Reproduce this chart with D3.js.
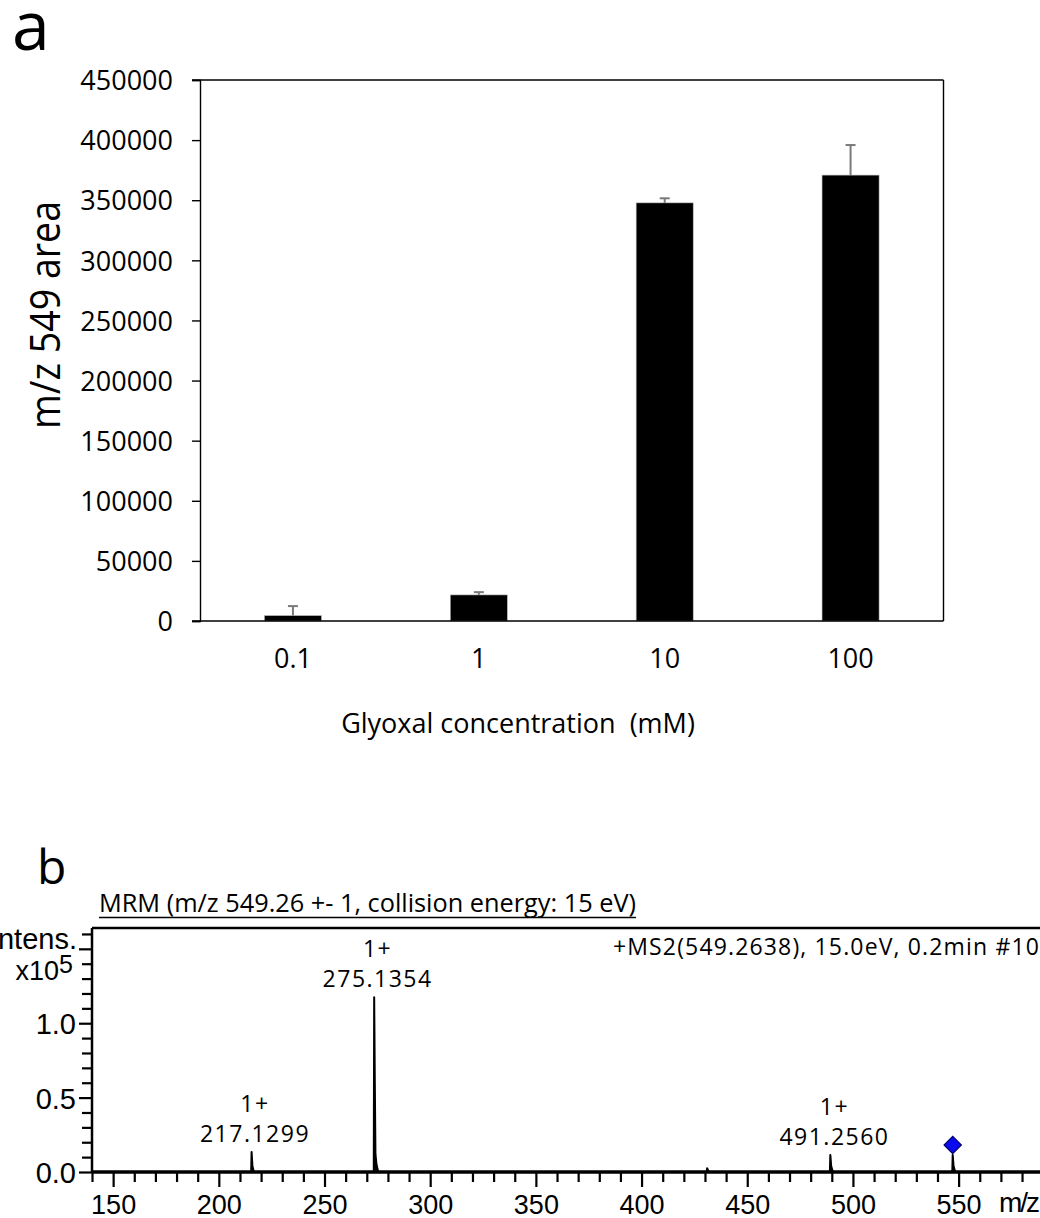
<!DOCTYPE html>
<html><head><meta charset="utf-8">
<script src="https://cdn.jsdelivr.net/npm/d3@7"></script>
<style>body{margin:0;background:#fff}svg{display:block}</style>
</head><body><svg id="c" width="1040" height="1218"></svg>
<script>
// ---------- Panel a data ----------
const categories = ["0.1", "1", "10", "100"];
const areaMeans = [4500, 21700, 347800, 370900];
const areaErrors = [7900, 2300, 3800, 25000];
const yTicksA = [0, 50000, 100000, 150000, 200000, 250000, 300000, 350000, 400000, 450000];

// ---------- Panel b data ----------
const specMz  = [140, 215.3, 215.5, 215.9, 216.4, 216.8, 273.3, 273.5, 273.8, 274.1, 274.6, 275.4, 430.8, 431.0, 431.8, 489.1, 489.3, 489.7, 490.3, 490.8, 547.0, 547.2, 547.6, 548.2, 548.6, 588.5];
const specInt = [0, 0, 0.135, 0.04, 0.01, 0, 0, 1.175, 0.6, 0.12, 0.05, 0, 0, 0.025, 0, 0, 0.115, 0.04, 0.01, 0, 0, 0.115, 0.04, 0.01, 0, 0];
const peakLabelMz = [217.1299, 275.1354, 491.2560];
const peakLabelApex = [0.135, 1.175, 0.115];
const peakLabelText = ["217.1299", "275.1354", "491.2560"];
const peakCharge = ["1+", "1+", "1+"];
const precursorMz = [547.2];
const precursorApex = [0.115];
const xMajorB = [150, 200, 250, 300, 350, 400, 450, 500, 550];
const xMinorB = [140, 160, 170, 180, 190, 210, 220, 230, 240, 260, 270, 280, 290, 310, 320, 330, 340, 360, 370, 380, 390, 410, 420, 430, 440, 460, 470, 480, 490, 510, 520, 530, 540, 560, 570, 580];
const yMajorB = [0, 0.5, 1.0, 1.5];
const yMajorLabelsB = ["0.0", "0.5", "1.0", ""];
const yMinorB = [0.1, 0.2, 0.3, 0.4, 0.6, 0.7, 0.8, 0.9, 1.1, 1.2, 1.3, 1.4, 1.6];

const svg = d3.select("#c");
const FA = "'Open Sans', sans-serif";
const FB = "'Liberation Sans', Arial, sans-serif";

// ================= Panel a =================
const ax = d3.scaleBand().domain(categories).range([200, 943.5]).paddingInner(0.693).paddingOuter(0.3465);
const ay = d3.scaleLinear().domain([0, 450000]).range([621, 80]);

const ga = svg.append("g");
ga.append("text").attr("x", 12).attr("y", 50).attr("font-family", FA).attr("font-size", 68).text("a");

// bars
ga.selectAll("rect.bar").data(categories).join("rect").attr("class", "bar")
  .attr("x", d => ax(d)).attr("width", ax.bandwidth())
  .attr("y", (d, i) => ay(areaMeans[i])).attr("height", (d, i) => ay(0) - ay(areaMeans[i]))
  .attr("fill", "#000").attr("stroke", "#bbb").attr("stroke-width", 0.6);

// error bars
const eb = ga.append("g").attr("stroke", "#7a7a7a").attr("stroke-width", 2);
categories.forEach((c, i) => {
  const cx = ax(c) + ax.bandwidth() / 2;
  eb.append("line").attr("x1", cx).attr("x2", cx).attr("y1", ay(areaMeans[i])).attr("y2", ay(areaMeans[i] + areaErrors[i]));
  eb.append("line").attr("x1", cx - 5).attr("x2", cx + 5).attr("y1", ay(areaMeans[i] + areaErrors[i])).attr("y2", ay(areaMeans[i] + areaErrors[i]));
});

// frame
ga.append("line").attr("x1", 192).attr("x2", 943.5).attr("y1", 80).attr("y2", 80).attr("stroke", "#000").attr("stroke-width", 1.4);
ga.append("line").attr("x1", 943.5).attr("x2", 943.5).attr("y1", 80).attr("y2", 621).attr("stroke", "#000").attr("stroke-width", 1.4);

// y axis
const yAxA = ga.append("g").attr("transform", "translate(200,0)")
  .call(d3.axisLeft(ay).tickValues(yTicksA).tickSize(8).tickPadding(19).tickFormat(d3.format("d")));
yAxA.select(".domain").attr("stroke-width", 1.4);
yAxA.selectAll(".tick line").attr("stroke-width", 1.4);
yAxA.selectAll("text").attr("font-family", FA).attr("font-size", 27).attr("fill", "#000").attr("dy", "0.36em");

// x axis
const xAxA = ga.append("g").attr("transform", "translate(0,621)")
  .call(d3.axisBottom(ax).tickSize(0).tickPadding(28));
xAxA.select(".domain").attr("d", "M192,0H943.5").attr("stroke-width", 1.4);
xAxA.selectAll("text").attr("font-family", FA).attr("font-size", 27).attr("fill", "#000");

ga.append("text").attr("x", 518).attr("y", 733).attr("text-anchor", "middle")
  .attr("font-family", FA).attr("font-size", 27).attr("xml:space", "preserve").text("Glyoxal concentration  (mM)");
ga.append("text").attr("transform", "translate(60,315) rotate(-90)").attr("text-anchor", "middle")
  .attr("font-family", FA).attr("font-size", 42).attr("textLength", 228).attr("lengthAdjust", "spacingAndGlyphs")
  .text("m/z 549 area");

// ================= Panel b =================
const bx = d3.scaleLinear().domain([140, 588.5]).range([92, 1040]);
const by = d3.scaleLinear().domain([0, 1.64]).range([1172, 928]);
const gb = svg.append("g");

gb.append("text").attr("x", 37).attr("y", 884).attr("font-family", FA).attr("font-size", 48).text("b");

const title = gb.append("text").attr("x", 99).attr("y", 912).attr("font-family", FA).attr("font-size", 25.3)
  .text("MRM (m/z 549.26 +- 1, collision energy: 15 eV)");
const tl = title.node().getComputedTextLength();
gb.append("line").attr("x1", 99).attr("x2", 99 + tl).attr("y1", 917.5).attr("y2", 917.5).attr("stroke", "#000").attr("stroke-width", 1.5);

// top frame line
gb.append("line").attr("x1", 92).attr("x2", 1040).attr("y1", by(1.64)).attr("y2", by(1.64)).attr("stroke", "#000").attr("stroke-width", 2.5);

// spectrum
const pts = specMz.map((m, i) => [m, specInt[i]]);
gb.append("path").datum(pts)
  .attr("d", d3.area().x(d => bx(d[0])).y0(by(0)).y1(d => by(d[1])))
  .attr("fill", "#000").attr("stroke", "#000").attr("stroke-width", 2).attr("stroke-linejoin", "round");

// y axis b
const yAxB = gb.append("g").attr("transform", "translate(92,0)")
  .call(d3.axisLeft(by).tickValues(yMajorB).tickSize(13).tickPadding(3).tickFormat((d, i) => yMajorLabelsB[i]));
yAxB.select(".domain").attr("d", "M0," + by(1.64) + "V" + by(0)).attr("stroke-width", 2.5);
yAxB.selectAll(".tick line").attr("stroke-width", 2.2);
yAxB.selectAll("text").attr("font-family", FB).attr("font-size", 29).attr("fill", "#000").attr("dy", "0.36em");
const yAxBm = gb.append("g").attr("transform", "translate(92,0)")
  .call(d3.axisLeft(by).tickValues(yMinorB).tickSize(10).tickFormat(""));
yAxBm.select(".domain").remove();
yAxBm.selectAll(".tick line").attr("stroke-width", 2.2);

// x axis b
const xAxB = gb.append("g").attr("transform", "translate(0," + by(0) + ")")
  .call(d3.axisBottom(bx).tickValues(xMajorB).tickSize(15).tickPadding(8));
xAxB.select(".domain").attr("d", "M92,0H1040").attr("stroke-width", 3.5);
xAxB.selectAll(".tick line").attr("stroke-width", 2.2);
xAxB.selectAll("text").attr("font-family", FB).attr("font-size", 27).attr("fill", "#000");
const xAxBm = gb.append("g").attr("transform", "translate(0," + by(0) + ")")
  .call(d3.axisBottom(bx).tickValues(xMinorB).tickSize(10).tickFormat(""));
xAxBm.select(".domain").remove();
xAxBm.selectAll(".tick line").attr("stroke-width", 2.2);

gb.append("text").attr("x", 1038).attr("y", 1212).attr("text-anchor", "end").attr("font-family", FB).attr("font-size", 28).attr("letter-spacing", -2).text("m/z");

// Intens label
gb.append("text").attr("x", 77).attr("y", 949).attr("text-anchor", "end").attr("font-family", FB).attr("font-size", 29).text("Intens.");
const xt = gb.append("text").attr("x", 73).attr("y", 980).attr("text-anchor", "end").attr("font-family", FB).attr("font-size", 27);
xt.append("tspan").text("x10");
xt.append("tspan").attr("dy", -7).attr("font-size", 25).text("5");

// header
gb.append("text").attr("x", 1040).attr("y", 955).attr("text-anchor", "end").attr("font-family", FA).attr("font-size", 23).attr("letter-spacing", 1.15)
  .text("+MS2(549.2638), 15.0eV, 0.2min #10");

// peak labels
peakLabelMz.forEach((m, i) => {
  const yy = by(peakLabelApex[i]) - 10;
  gb.append("text").attr("x", bx(m)).attr("y", yy).attr("text-anchor", "middle").attr("font-family", FA).attr("font-size", 23).attr("letter-spacing", 1.5).text(peakLabelText[i]);
  gb.append("text").attr("x", bx(m)).attr("y", yy - 30).attr("text-anchor", "middle").attr("font-family", FA).attr("font-size", 23).attr("letter-spacing", 1.5).text(peakCharge[i]);
});

// precursor diamond
gb.selectAll("path.prec").data(precursorMz).join("path").attr("class", "prec")
  .attr("d", d3.symbol().type(d3.symbolSquare).size(150))
  .attr("transform", (d, i) => "translate(" + bx(d) + "," + (by(precursorApex[i]) - 10) + ") rotate(45)")
  .attr("fill", "#0a0af0").attr("stroke", "#00006a").attr("stroke-width", 1.2);
</script></body></html>
